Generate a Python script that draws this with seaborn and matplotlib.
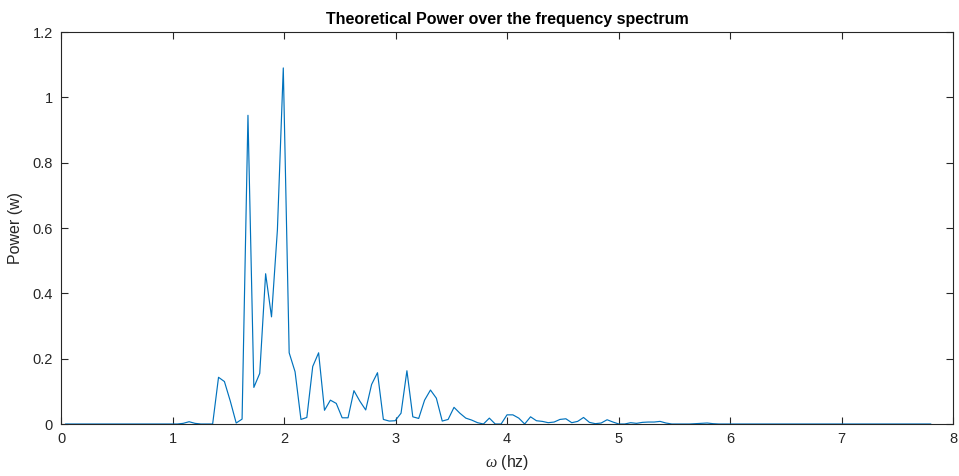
import numpy as np
import pandas as pd
import matplotlib
matplotlib.use("Agg")
import matplotlib.pyplot as plt
import seaborn as sns

# frequency grid (hz) of the sampled spectrum
f_start = 0.04
f_step = 0.0528

# theoretical power (w) at each frequency sample
power = [
    0, 0, 0, 0, 0, 0, 0, 0, 0, 0,            # 0-9
    0, 0, 0, 0, 0, 0, 0, 0, 0, 0,            # 10-19
    0.002, 0.007, 0.002, 0, 0, 0, 0.143, 0.13, 0.07, 0.003,   # 20-29
    0.015, 0.945, 0.112, 0.155, 0.46, 0.328, 0.594, 1.09, 0.218, 0.16,  # 30-39
    0.014, 0.02, 0.176, 0.218, 0.042, 0.073, 0.063, 0.019, 0.019, 0.102,  # 40-49
    0.07, 0.043, 0.121, 0.157, 0.014, 0.009, 0.01, 0.033, 0.163, 0.022,  # 50-59
    0.017, 0.073, 0.104, 0.079, 0.009, 0.014, 0.051, 0.033, 0.018, 0.012,  # 60-69
    0.004, 0.0, 0.018, 0.0, 0.0, 0.028, 0.028, 0.018, 0.0, 0.022,  # 70-79
    0.01, 0.008, 0.004, 0.006, 0.014, 0.016, 0.004, 0.008, 0.02, 0.005,  # 80-89
    0.001, 0.003, 0.013, 0.006, 0.0, 0.0, 0.004, 0.002, 0.005, 0.006,  # 90-99
    0.006, 0.008, 0.003, 0.0, 0.0, 0.0, 0.0, 0.001, 0.002, 0.003,  # 100-109
    0.001, 0, 0, 0, 0, 0, 0, 0, 0, 0,        # 110-119
    0, 0, 0, 0, 0, 0, 0, 0, 0, 0,            # 120-129
    0, 0, 0, 0, 0, 0, 0, 0, 0, 0,            # 130-139
    0, 0, 0, 0, 0, 0, 0, 0,                  # 140-147
]

freq = f_start + f_step * np.arange(len(power))

x_ticks = [0, 1, 2, 3, 4, 5, 6, 7, 8]
y_ticks = [0, 0.2, 0.4, 0.6, 0.8, 1.0, 1.2]
y_tick_labels = ["0", "0.2", "0.4", "0.6", "0.8", "1", "1.2"]

df = pd.DataFrame({"freq": freq, "power": power})

sns.set_theme(style="white")
plt.rcParams["font.family"] = ["Liberation Sans", "DejaVu Sans"]
plt.rcParams["mathtext.fontset"] = "custom"
plt.rcParams["mathtext.it"] = "Liberation Serif:italic"

fig = plt.figure(figsize=(9.59, 4.76), dpi=100)
ax = fig.add_axes([61 / 959, 1 - 424 / 476, (953 - 61) / 959, (424 - 32) / 476])

sns.lineplot(data=df, x="freq", y="power", ax=ax, color="#0072BD", linewidth=0.85)

edge = "#262626"
ax.set_xlim(0, 8)
ax.set_ylim(0, 1.2)
ax.set_xticks(x_ticks)
ax.set_xticklabels([str(t) for t in x_ticks])
ax.set_yticks(y_ticks)
ax.set_yticklabels(y_tick_labels)
for s in ax.spines.values():
    s.set_visible(True)
    s.set_color(edge)
    s.set_linewidth(0.8)
ax.tick_params(axis="both", direction="in", length=5, width=0.8, color=edge,
               labelcolor=edge, labelsize=10.5, top=True, right=True,
               bottom=True, left=True, pad=6)

ax.set_title("Theoretical Power over the frequency spectrum", fontsize=11.5,
             fontweight="bold", color="black", pad=6)
ax.set_xlabel(r"$\omega$ (hz)", fontsize=11.5, color=edge, labelpad=5)
ax.set_ylabel("Power (w)", fontsize=11.5, color=edge, labelpad=12)
ax.yaxis.set_label_coords(-0.043, 0.5)

fig.savefig("out.png", dpi=100, facecolor="white")
